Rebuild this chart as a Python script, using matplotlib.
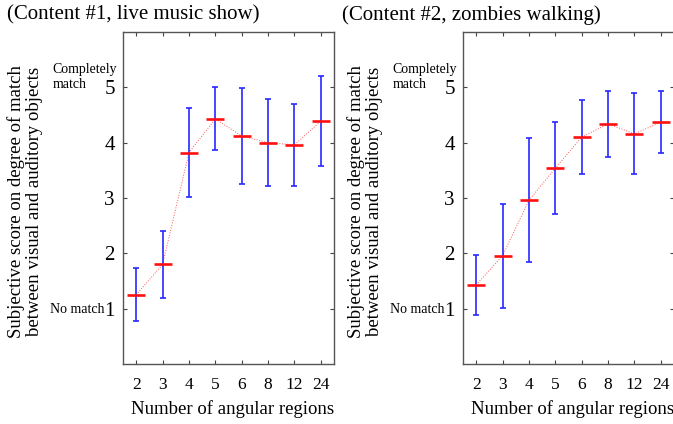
import matplotlib
matplotlib.use('Agg')
import matplotlib.pyplot as plt

# --- data ---
regions = ["2", "3", "4", "5", "6", "8", "12", "24"]

titles = ["(Content #1, live music show)", "(Content #2, zombies walking)"]

mean_c1 = [1.25, 1.80, 3.82, 4.43, 4.12, 4.00, 3.96, 4.39]
sd_c1 = [0.48, 0.60, 0.81, 0.57, 0.86, 0.79, 0.74, 0.82]

mean_c2 = [1.43, 1.96, 2.96, 3.54, 4.10, 4.34, 4.16, 4.37]
sd_c2 = [0.54, 0.94, 1.12, 0.83, 0.67, 0.59, 0.73, 0.56]

plt.rcParams['font.family'] = ['Liberation Serif', 'DejaVu Serif']

fig = plt.figure(figsize=(6.73, 4.24), dpi=100)

panels = [
    (0.1828, titles[0], mean_c1, sd_c1, 7),
    (0.688, titles[1], mean_c2, sd_c2, 342),
]

for left, title, mean, sd, title_x in panels:
    ax = fig.add_axes([left, 0.1415, 0.3135, 0.783])
    x = list(range(len(regions)))

    # thin dotted line between means
    ax.plot(x, mean, color='#ff5555', lw=0.7, ls=':', zorder=2)
    ax.errorbar(x, mean, yerr=sd, fmt='none', ecolor='#2828ff', elinewidth=1.2,
                capsize=2.5, capthick=1.2, zorder=3)
    ax.plot(x, mean, ls='none', marker='_', markersize=13, mew=1.9,
            color='#ff1010', zorder=4)

    ax.set_xlim(-0.5, len(regions) - 0.5)
    ax.set_ylim(0, 6)
    ax.set_xticks(x)
    ax.set_xticklabels(regions, fontsize=12.5)
    ax.set_yticks([1, 2, 3, 4, 5])
    ax.set_yticklabels(["1", "2", "3", "4", "5"], fontsize=15)
    ax.tick_params(direction='in', length=3, width=0.8, color='#444444',
                   top=True, right=True, pad=6)
    ax.tick_params(axis='x', pad=9)
    for s in ax.spines.values():
        s.set_color('#555555')
        s.set_linewidth(1.0)

    ax.set_xlabel("Number of angular regions", fontsize=13.5)
    ax.xaxis.set_label_coords(0.52, -0.11)
    ax.set_ylabel("Subjective score on degree of match\nbetween visual and auditory objects",
                  fontsize=13.5, linespacing=1.1)
    ax.yaxis.set_label_coords(-0.378, 0.49)

    # anchor labels next to the 5 and 1 ticks
    ytr = ax.get_yaxis_transform()
    ax.text(-0.335, 5.33, "Completely", transform=ytr, fontsize=10, ha='left', va='center')
    ax.text(-0.335, 5.05, "match", transform=ytr, fontsize=10, ha='left', va='center')
    ax.text(-0.345, 0.98, "No match", transform=ytr, fontsize=10, ha='left', va='center')

    fig.text(title_x / 673, 1 - 15 / 424, title, fontsize=15, ha='left', va='center')

fig.savefig("out.png", dpi=100)
